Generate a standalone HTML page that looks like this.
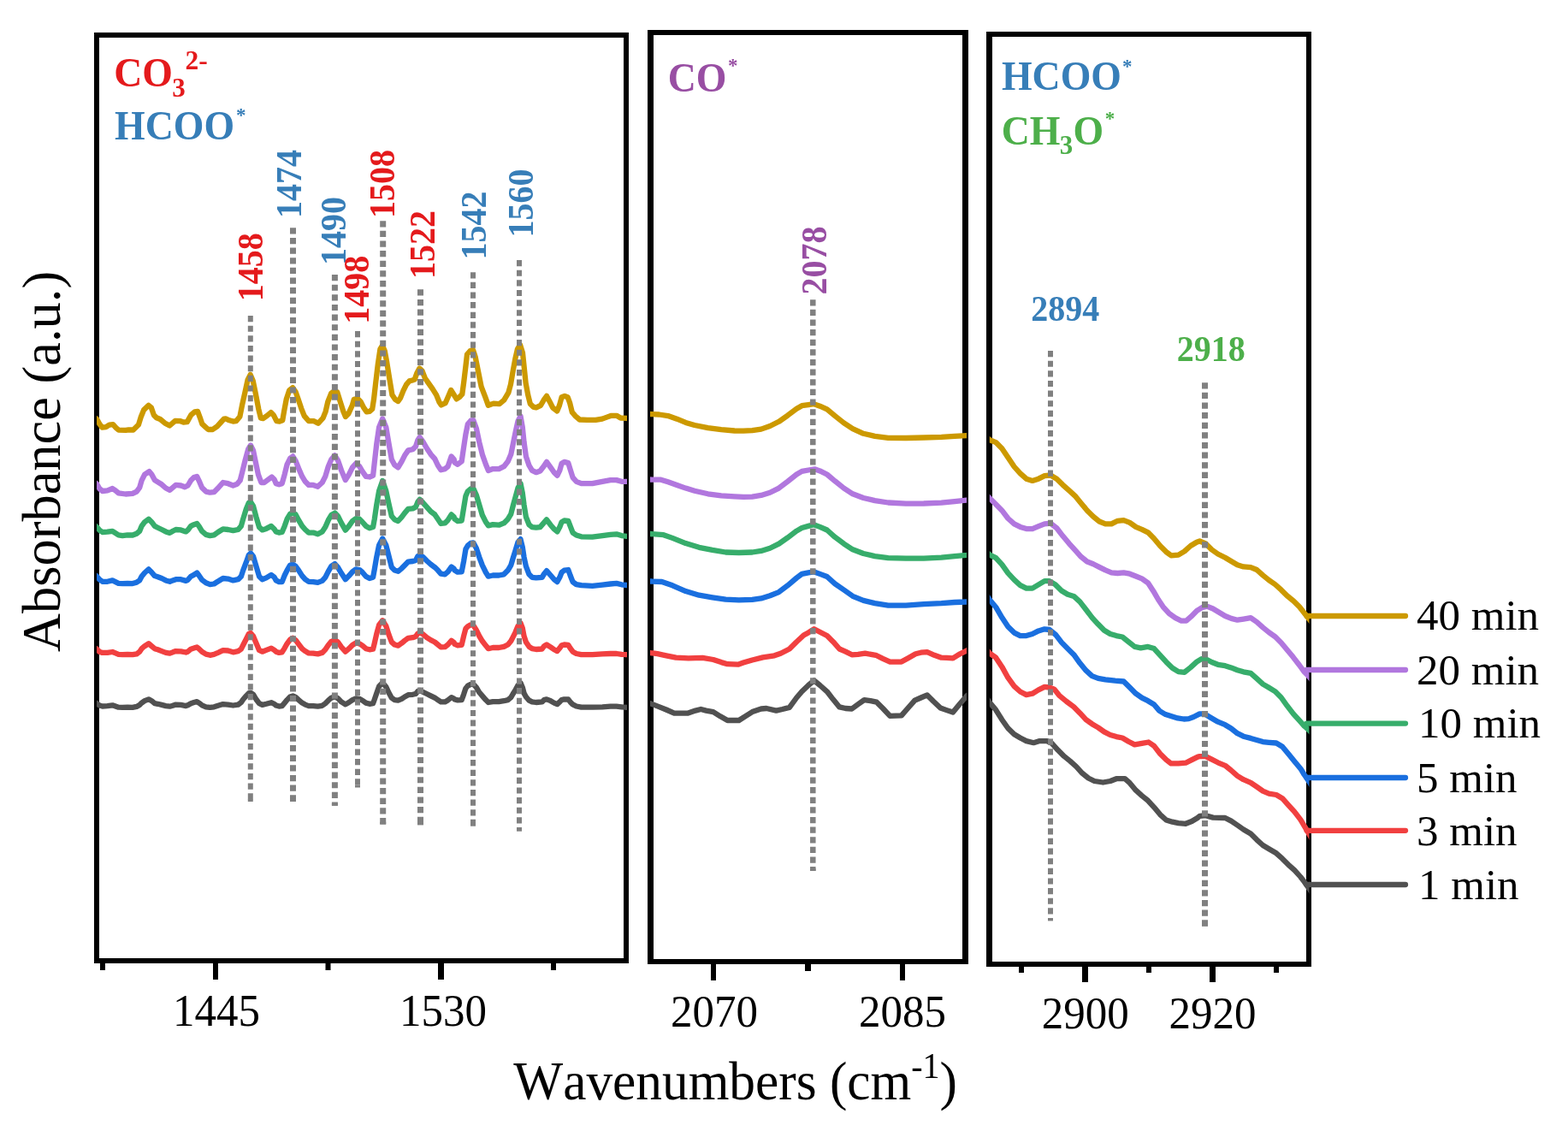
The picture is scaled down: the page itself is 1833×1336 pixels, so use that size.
<!DOCTYPE html>
<html lang="en"><head><meta charset="utf-8"><title>In situ DRIFTS spectra</title>
<style>
html,body{margin:0;padding:0;background:#fff;}
body{width:1833px;height:1336px;overflow:hidden;}
svg{display:block;font-family:'Liberation Serif', 'Times New Roman', serif;font-kerning:none;}
.curve{fill:none;stroke-width:6.3;stroke-linejoin:round;stroke-linecap:butt;}
.dot{fill:none;stroke:#808080;stroke-dasharray:7.2 4.43;}
.tick{font-size:51px;text-anchor:middle;fill:#000;}
.leg{font-size:51px;fill:#000;}
.ann{font-size:40px;font-weight:bold;}
.ttl{font-weight:bold;}
.axl{fill:#000;}
</style></head><body>
<svg width="1833" height="1336" viewBox="0 0 1833 1336">
<rect width="1833" height="1336" fill="#fff"/>
<g fill="#000" fill-rule="evenodd">
<path d="M110 38H735V1126H110ZM116 44H729V1120H116Z"/>
<path d="M757 35H1132V1127H757ZM764 41H1125V1121H764Z"/>
<path d="M1153 37H1533V1130H1153ZM1160 43H1527V1124H1160Z"/>
<rect x="117" y="1125" width="6" height="9"/>
<rect x="249" y="1125" width="6" height="20"/>
<rect x="380.5" y="1125" width="6" height="9"/>
<rect x="512" y="1125" width="7" height="20"/>
<rect x="644" y="1125" width="6" height="9"/>
<rect x="831" y="1126" width="6" height="20"/>
<rect x="941" y="1126" width="7" height="9"/>
<rect x="1052" y="1126" width="6" height="20"/>
<rect x="1191" y="1129" width="6" height="8"/>
<rect x="1265" y="1129" width="7" height="19"/>
<rect x="1340" y="1129" width="6" height="8"/>
<rect x="1414" y="1129" width="7" height="19"/>
<rect x="1489" y="1129" width="6" height="8"/>
</g>
<defs>
<clipPath id="c1"><rect x="113" y="0" width="620" height="1336"/></clipPath>
<clipPath id="c2"><rect x="760" y="0" width="370" height="1336"/></clipPath>
<clipPath id="c3"><rect x="1156.8" y="0" width="373.6" height="1336"/></clipPath>
</defs>
<g class="curve">
<g clip-path="url(#c1)">
<polyline stroke="#515151" points="110.8,820.9 113.3,822.2 116.2,824.5 119.7,825.5 125.6,825.1 131.5,824.3 135.0,825.5 138.5,826.7 143.2,826.9 149.1,826.7 155.0,826.9 159.7,825.9 163.2,823.9 165.6,821.6 169.1,819.2 173.8,817.3 177.3,819.2 180.8,822.2 184.4,822.8 189.1,823.9 193.8,825.1 198.5,825.7 202.0,824.8 205.5,823.6 211.4,823.9 217.3,825.1 219.6,824.3 223.1,822.2 226.7,821.0 230.2,820.1 232.5,821.6 236.1,824.3 240.8,826.3 245.5,826.9 250.2,826.3 254.9,824.8 260.7,823.1 266.6,823.6 272.5,824.5 278.4,823.6 281.9,821.0 284.2,817.5 287.8,813.4 290.7,810.4 293.0,809.8 296.0,811.6 299.5,817.5 303.0,822.2 306.6,823.9 311.3,822.8 317.1,821.2 320.7,822.8 322.7,824.5 326.2,825.5 329.7,825.1 332.7,821.6 335.6,818.1 339.1,814.5 342.3,813.4 345.6,814.9 349.1,818.1 353.2,821.6 356.8,823.6 360.9,825.1 366.2,825.1 371.5,825.7 376.7,824.8 380.3,822.2 383.8,818.7 387.3,815.7 391.4,814.2 395.0,816.3 399.1,820.4 403.8,823.4 407.9,821.0 412.0,818.1 416.1,816.3 420.2,816.9 423.7,818.7 427.8,821.6 432.0,822.8 436.1,822.2 437.8,817.5 440.2,810.4 443.1,802.2 447.2,798.1 451.3,802.8 454.3,809.3 457.8,815.7 461.3,818.1 465.4,818.7 469.6,816.9 473.1,814.5 477.2,812.2 482.5,811.8 486.0,811.0 488.4,808.1 490.7,806.9 494.2,808.7 498.9,811.0 503.6,813.4 508.3,815.7 511.9,818.1 515.4,820.4 520.1,820.4 523.6,818.4 527.7,815.1 530.7,816.5 531.5,817.5 535.0,818.4 539.7,818.1 542.1,811.6 544.4,804.6 546.8,801.6 550.3,799.9 553.3,799.6 556.8,803.4 560.3,809.3 563.8,813.4 567.9,818.1 570.9,821.0 576.2,820.1 583.2,820.1 589.1,819.2 593.8,818.1 597.3,815.1 599.7,811.0 602.6,806.3 605.5,801.0 608.5,798.1 610.8,803.4 612.6,810.4 614.9,814.5 618.5,818.7 622.0,820.4 626.7,821.0 633.7,820.4 636.1,818.1 639.0,817.3 643.7,819.2 647.8,821.6 651.4,823.1 654.3,820.4 656.6,818.1 659.6,817.3 664.3,817.5 666.6,820.4 669.6,823.4 673.7,825.5 679.6,826.7 692.5,826.7 704.2,826.3 713.6,825.7 720.7,825.7 726.6,826.3 733.0,826.9 735.5,827.1"/>
<polyline stroke="#F14040" points="110.8,757.2 113.3,758.7 116.2,761.7 119.7,762.9 125.6,762.9 131.5,762.0 135.0,763.4 138.5,764.9 143.2,765.2 149.1,764.9 155.0,765.2 159.7,764.4 163.2,761.7 165.6,758.2 169.1,755.2 173.8,752.3 177.3,755.2 180.8,758.2 184.4,759.3 189.1,761.1 193.8,762.9 198.5,763.7 202.0,762.3 205.5,761.1 211.4,761.3 217.3,762.5 219.6,761.7 223.1,758.7 226.7,757.6 230.2,756.4 232.5,758.2 236.1,761.7 240.8,764.6 245.5,765.8 250.2,764.9 254.9,762.9 260.7,760.2 266.6,760.5 272.5,762.3 278.4,761.1 281.9,758.7 284.2,754.0 287.8,747.0 290.7,741.1 293.0,739.9 296.0,743.5 299.5,751.7 303.0,759.9 306.6,761.7 311.3,759.9 317.1,757.6 320.7,759.9 322.7,761.7 326.2,762.9 329.7,762.3 332.7,757.6 335.6,752.3 339.1,747.6 342.3,745.8 345.6,748.2 349.1,752.9 353.2,758.2 356.8,761.1 360.9,763.4 366.2,763.7 371.5,764.4 376.7,762.9 380.3,759.3 383.8,754.0 387.3,749.9 391.4,748.2 395.0,750.5 399.1,756.4 403.8,761.7 407.9,758.2 412.0,754.0 416.1,751.5 420.2,752.3 423.7,754.6 427.8,758.2 432.0,759.3 436.1,758.7 437.8,751.7 440.2,741.1 443.1,730.5 447.2,725.3 451.3,731.7 454.3,741.1 457.8,750.5 461.3,753.5 465.4,754.6 469.6,751.7 473.1,748.8 477.2,745.8 482.5,745.2 486.0,744.1 488.4,740.5 490.7,739.4 494.2,741.1 498.9,745.2 503.6,748.2 508.3,750.5 511.9,753.5 515.4,756.4 520.1,756.2 523.6,753.5 527.7,748.8 530.7,751.1 531.5,752.9 535.0,754.3 539.7,753.8 542.1,743.5 544.4,734.7 546.8,732.3 550.3,730.3 553.3,730.8 556.8,736.4 560.3,743.5 563.8,749.3 567.9,754.6 570.9,758.2 576.2,757.0 583.2,757.0 589.1,755.8 593.8,753.5 597.3,749.3 599.7,744.6 602.6,738.8 605.5,731.7 608.5,728.2 610.8,734.1 612.6,743.5 614.9,750.5 618.5,755.8 622.0,758.2 626.7,759.0 633.7,758.5 636.1,755.2 639.0,753.5 643.7,756.4 647.8,759.3 651.4,761.1 654.3,757.6 656.6,754.3 659.6,753.5 664.3,753.8 666.6,757.6 669.6,761.7 673.7,764.0 679.6,765.2 692.5,765.2 704.2,764.4 713.6,764.0 720.7,764.0 726.6,764.9 733.0,765.2 735.5,765.4"/>
<polyline stroke="#1A6FDF" points="110.8,671.7 113.3,673.7 116.2,677.2 119.7,679.8 125.6,679.8 131.5,678.4 135.0,680.1 138.5,681.9 143.2,682.1 149.1,681.9 155.0,682.1 159.7,680.7 163.2,678.4 165.6,673.7 169.1,669.5 173.8,665.4 177.3,669.0 180.8,673.1 184.4,674.2 189.1,676.0 193.8,678.4 198.5,679.8 202.0,678.4 205.5,677.2 211.4,677.2 217.3,678.9 219.6,677.8 223.1,673.7 226.7,671.9 230.2,669.5 232.5,672.5 236.1,677.8 240.8,681.3 245.5,683.1 250.2,682.5 254.9,679.5 260.7,676.0 266.6,676.6 272.5,678.4 278.4,677.2 281.9,673.7 284.2,666.6 287.8,657.2 290.7,649.0 293.0,646.6 296.0,650.2 299.5,661.9 303.0,673.7 306.6,677.2 311.3,675.4 317.1,671.9 320.7,674.8 322.7,678.4 326.2,680.1 329.7,680.1 332.7,672.5 335.6,666.6 339.1,660.7 342.3,659.6 345.6,661.9 349.1,666.6 353.2,673.1 356.8,677.2 360.9,679.8 366.2,680.1 371.5,680.9 376.7,678.9 380.3,674.8 383.8,667.8 387.3,661.9 391.4,659.0 395.0,663.1 399.1,670.1 403.8,677.2 407.9,673.1 412.0,668.4 416.1,665.4 420.2,666.0 423.7,669.0 427.8,673.7 432.0,676.0 436.1,674.8 437.8,665.4 440.2,651.3 443.1,637.2 447.2,629.6 451.3,637.2 454.3,649.0 457.8,663.1 461.3,666.6 465.4,667.8 469.6,664.3 473.1,660.7 477.2,656.6 482.5,656.0 486.0,654.9 488.4,650.2 490.7,648.4 494.2,650.8 498.9,655.5 503.6,659.6 508.3,663.1 511.9,666.6 515.4,670.7 520.1,671.3 523.6,668.4 527.7,662.5 530.7,664.8 531.5,666.6 535.0,668.7 539.7,668.4 542.1,656.0 544.4,641.9 546.8,637.8 550.3,634.9 553.3,634.3 556.8,640.8 560.3,651.3 563.8,660.7 567.9,669.0 570.9,673.7 576.2,672.5 583.2,672.5 589.1,671.3 593.8,666.6 597.3,660.7 599.7,652.5 602.6,643.1 605.5,633.7 608.5,630.2 610.8,639.6 612.6,651.3 614.9,661.9 618.5,671.3 622.0,674.8 626.7,675.4 633.7,674.8 636.1,670.7 639.0,667.2 643.7,672.5 647.8,677.2 651.4,680.1 654.3,674.8 656.6,669.0 659.6,666.6 664.3,666.0 666.6,672.5 669.6,680.1 673.7,683.1 679.6,684.2 692.5,684.8 704.2,683.6 713.6,682.5 720.7,681.9 726.6,683.3 733.0,684.0 735.5,684.4"/>
<polyline stroke="#37AD6B" points="110.8,614.1 113.3,616.1 116.2,619.6 119.7,622.0 125.6,621.7 131.5,620.8 135.0,623.1 138.5,625.3 143.2,626.1 149.1,625.3 155.0,625.5 159.7,623.7 163.2,620.8 165.6,614.9 169.1,610.2 173.8,606.7 177.3,610.2 180.8,614.9 184.4,616.7 189.1,619.0 193.8,621.4 198.5,622.9 202.0,620.8 205.5,619.0 211.4,619.4 217.3,621.4 219.6,619.6 223.1,614.9 226.7,613.2 230.2,612.0 232.5,614.9 236.1,620.8 240.8,624.9 245.5,626.1 250.2,625.3 254.9,622.0 260.7,618.4 266.6,619.0 272.5,620.2 278.4,619.0 281.9,614.9 284.2,606.7 287.8,594.9 290.7,587.9 293.0,586.7 296.0,591.4 299.5,604.3 303.0,616.1 306.6,619.4 311.3,617.9 317.1,614.9 320.7,618.4 322.7,621.4 326.2,622.6 329.7,622.0 332.7,614.9 335.6,606.7 339.1,600.8 342.3,599.1 345.6,601.4 349.1,607.9 353.2,614.9 356.8,619.0 360.9,622.6 366.2,622.6 371.5,624.3 376.7,621.4 380.3,616.1 383.8,607.9 387.3,602.0 391.4,599.6 395.0,603.2 399.1,611.4 403.8,619.6 407.9,614.9 412.0,609.0 416.1,606.1 420.2,606.7 423.7,610.2 427.8,614.9 432.0,617.3 436.1,616.1 437.8,606.7 440.2,590.2 443.1,573.8 447.2,562.0 451.3,573.8 454.3,587.9 457.8,603.2 461.3,607.3 465.4,609.0 469.6,604.3 473.1,599.6 477.2,594.9 482.5,594.4 486.0,592.6 488.4,586.7 490.7,583.8 494.2,587.3 498.9,592.6 503.6,597.9 508.3,601.4 511.9,606.7 515.4,612.0 520.1,611.4 523.6,607.9 527.7,601.4 530.7,604.3 531.5,606.7 535.0,609.0 539.7,608.5 542.1,593.8 544.4,579.7 546.8,574.4 550.3,571.4 553.3,570.9 556.8,578.5 560.3,590.2 563.8,602.0 567.9,610.2 570.9,614.3 576.2,613.2 583.2,613.7 589.1,611.4 593.8,606.7 597.3,600.8 599.7,591.4 602.6,580.8 605.5,570.3 608.5,565.0 610.8,576.1 612.6,590.2 614.9,604.3 618.5,613.2 622.0,616.1 626.7,616.7 631.4,616.1 635.5,611.4 639.0,607.3 643.7,613.7 647.8,618.4 651.4,621.4 654.3,616.1 656.6,610.2 659.6,608.5 664.3,609.0 666.6,614.9 669.6,622.6 673.7,625.5 679.6,627.3 692.5,627.6 704.2,626.1 713.6,624.9 720.7,624.3 726.6,626.1 733.0,626.9 735.5,627.4"/>
<polyline stroke="#B177DE" points="110.8,563.8 113.3,565.8 116.2,571.0 119.7,574.0 125.6,573.4 131.5,571.0 135.0,573.4 138.5,576.3 146.8,577.5 155.0,576.9 159.7,574.6 163.2,569.9 165.6,561.6 169.1,554.6 174.4,551.1 177.3,554.6 180.8,561.1 184.4,563.4 189.1,566.3 193.8,570.5 198.5,572.8 202.0,569.9 205.5,566.9 211.4,567.5 216.1,569.3 219.6,567.5 223.1,561.6 226.7,558.1 230.2,556.9 232.5,561.6 236.1,569.9 240.8,574.6 245.5,575.7 250.2,575.2 254.9,570.5 260.7,564.0 266.6,565.2 272.5,567.5 277.2,565.8 280.7,561.6 283.1,552.2 286.6,538.1 290.1,525.2 293.0,520.5 296.0,526.4 298.9,540.5 301.9,554.6 305.4,564.0 308.9,564.0 313.6,560.5 317.7,557.5 320.7,560.5 322.7,565.2 326.2,566.3 329.7,565.2 332.7,554.6 335.6,542.8 339.1,535.8 342.3,533.4 345.6,538.7 349.1,547.5 353.2,556.9 356.8,562.8 360.9,566.9 366.2,566.9 371.5,568.7 376.7,564.0 380.3,556.9 383.8,545.2 387.3,537.0 391.4,532.3 395.0,538.1 399.1,549.9 403.8,561.1 407.9,554.6 412.0,546.4 416.1,541.7 420.2,545.2 423.7,551.1 427.8,556.9 432.0,557.5 436.1,555.8 437.8,540.5 440.2,519.3 443.1,499.4 447.2,489.4 451.3,499.4 454.3,517.0 457.8,537.0 461.3,543.4 465.4,546.4 469.6,539.3 473.1,532.3 477.2,526.4 482.5,525.2 486.0,521.7 488.4,514.6 490.7,511.1 494.2,515.8 498.9,524.0 503.6,531.1 508.3,536.4 511.9,544.0 515.4,549.3 520.1,548.1 523.6,545.2 527.7,533.4 530.7,537.0 531.5,540.5 535.0,542.8 539.7,539.3 542.1,522.9 544.4,507.6 546.8,495.8 550.3,491.7 553.3,491.1 556.8,500.5 560.3,517.0 563.8,531.1 567.9,542.8 570.9,549.9 576.2,548.1 583.2,548.1 589.1,545.2 593.8,539.3 597.3,531.1 599.7,519.3 602.6,505.2 605.5,492.3 608.5,486.4 610.8,499.4 612.6,517.0 614.9,533.4 618.5,544.0 622.0,549.9 626.7,552.2 631.4,550.5 635.5,545.2 639.0,539.9 643.7,546.4 647.8,552.2 651.4,555.8 654.3,549.9 656.6,541.7 659.6,539.9 664.3,541.1 666.6,548.7 669.6,558.1 673.7,562.8 679.6,565.2 692.5,565.2 704.2,562.8 713.6,561.1 720.7,561.1 726.6,562.8 733.0,562.8 735.5,563.2"/>
<polyline stroke="#CC9900" points="110.8,488.0 113.3,490.0 116.4,495.7 119.4,499.7 123.8,499.2 127.8,496.6 132.1,496.1 135.7,500.1 138.7,502.7 147.0,502.9 150.5,502.3 155.8,502.5 161.9,496.6 164.6,487.8 168.1,479.1 173.7,473.8 176.8,476.4 179.9,485.2 182.9,488.3 187.3,490.0 192.6,494.4 198.3,497.5 204.8,491.8 211.0,492.2 214.5,493.5 218.8,493.1 223.2,485.2 227.6,481.3 231.1,480.8 233.7,487.8 236.4,495.7 239.9,498.8 243.4,502.0 248.6,502.0 253.9,498.3 258.3,493.5 261.8,489.6 263.8,489.4 268.1,491.3 272.5,492.6 276.0,492.2 280.4,487.0 283.0,473.8 286.5,458.1 289.6,444.0 292.7,437.9 295.7,444.9 298.8,459.8 302.3,478.2 304.9,488.7 307.5,489.1 311.9,486.1 316.7,482.1 319.8,485.2 323.3,492.2 326.8,492.6 330.3,491.3 332.1,480.8 334.7,466.8 338.2,456.3 342.1,453.2 345.6,458.1 348.7,466.8 352.2,477.3 355.7,486.1 361.0,492.2 367.1,492.2 371.9,494.8 377.6,488.7 380.7,480.8 383.3,469.4 387.2,459.8 389.9,457.6 394.2,458.1 397.7,469.4 401.3,480.8 403.9,487.0 407.4,483.5 411.8,473.8 413.8,466.8 418.1,465.9 421.6,469.4 425.1,476.4 428.6,481.3 432.1,480.8 435.2,478.2 437.0,466.8 439.2,447.5 441.8,425.7 444.4,408.1 447.0,403.8 449.7,409.9 452.3,423.9 455.4,443.2 458.4,461.6 461.9,466.8 465.4,469.0 468.1,465.1 471.6,456.3 475.1,449.3 478.6,445.4 482.1,444.5 484.7,443.6 487.3,436.2 490.4,430.5 493.5,433.5 497.0,442.3 501.3,448.4 505.7,454.6 510.1,461.6 513.6,470.3 515.8,473.4 520.6,471.2 524.1,463.3 527.2,455.9 530.2,460.7 533.7,466.4 537.2,464.2 540.3,460.7 542.1,447.5 544.2,430.0 546.0,414.3 549.5,410.3 553.0,409.0 555.6,416.9 559.1,434.4 562.6,451.9 567.3,464.2 570.8,473.8 576.9,471.6 583.9,472.1 589.2,467.7 594.4,458.9 597.0,449.3 599.7,433.5 602.3,419.5 604.9,408.1 608.0,402.9 611.0,412.5 612.8,430.0 614.6,447.5 617.2,461.6 619.8,472.1 623.3,475.6 626.8,476.4 632.1,473.8 635.6,467.7 639.1,462.9 642.6,469.4 646.1,476.4 651.3,480.4 654.0,473.8 656.6,464.2 660.1,462.9 663.6,464.2 666.2,471.2 668.8,481.7 672.4,486.1 677.6,490.5 686.4,490.9 696.4,490.8 704.0,489.6 710.1,487.4 714.7,485.8 720.8,485.8 725.4,488.5 733.0,488.9 735.5,489.5"/>
</g>
<g clip-path="url(#c2)">
<polyline stroke="#515151" points="757.7,821.3 760.2,822.3 768.5,825.4 778.8,829.5 788.2,833.7 803.7,833.7 813.0,830.6 819.3,829.0 825.5,830.6 833.8,832.1 842.1,837.3 850.4,842.0 863.8,842.0 871.1,837.3 879.4,832.1 889.8,828.5 896.0,828.0 907.4,830.6 914.6,829.0 922.9,826.9 931.2,815.5 937.4,808.3 945.0,801.0 951.7,795.3 958.5,801.0 966.8,808.3 974.0,817.6 981.3,826.4 988.5,828.0 995.8,828.5 1003.0,823.3 1010.3,818.1 1017.6,819.2 1024.8,820.7 1032.1,828.0 1040.4,836.8 1053.8,836.3 1061.1,828.0 1069.4,818.7 1076.6,815.5 1083.9,812.4 1091.2,819.7 1099.4,827.5 1106.7,830.1 1114.0,832.6 1121.2,823.8 1130.0,813.5 1132.5,811.5"/>
<polyline stroke="#F14040" points="757.7,762.5 760.2,763.0 768.5,764.2 778.8,766.3 790.2,768.7 804.8,769.4 821.3,768.9 833.8,771.0 843.1,774.1 850.4,776.2 862.8,776.7 869.0,774.6 879.4,771.5 891.8,768.4 905.3,766.3 912.6,763.7 922.9,758.5 931.2,750.2 939.5,742.5 945.0,739.4 951.7,735.2 958.5,738.8 966.8,743.0 974.0,750.2 981.3,758.5 988.5,761.6 995.8,765.3 1003.0,764.8 1011.3,763.7 1023.8,765.8 1032.1,769.9 1040.4,773.6 1053.8,773.6 1062.1,768.9 1070.4,764.2 1076.6,762.7 1083.9,762.2 1092.2,765.8 1100.5,768.7 1106.7,768.9 1114.0,769.4 1121.2,764.8 1130.0,760.6 1132.5,759.2"/>
<polyline stroke="#1A6FDF" points="757.7,679.0 760.2,679.5 773.7,680.0 786.1,684.3 801.6,691.1 817.2,695.7 832.7,698.3 848.3,700.7 863.8,701.4 879.4,700.9 889.8,699.4 900.1,696.2 910.5,692.1 920.8,684.3 931.2,675.5 937.4,670.9 945.0,669.3 951.2,668.3 958.5,670.9 966.8,674.0 976.1,682.3 986.5,689.5 996.8,696.8 1009.3,701.9 1022.7,705.1 1038.3,707.6 1059.0,707.6 1079.8,706.1 1100.5,705.1 1116.0,704.0 1130.0,703.5 1132.5,703.4"/>
<polyline stroke="#37AD6B" points="757.7,623.5 760.2,624.0 775.7,625.2 786.1,628.9 801.6,635.1 817.2,639.8 832.7,642.9 848.3,645.5 863.8,646.0 879.4,645.5 889.8,643.9 900.1,640.8 910.5,635.6 920.8,628.4 931.2,620.6 937.4,617.0 945.0,614.9 951.2,613.3 958.5,615.9 966.8,619.5 976.1,627.8 986.5,635.6 996.8,642.3 1009.3,647.0 1022.7,650.1 1038.3,652.2 1059.0,652.7 1079.8,652.7 1100.5,651.7 1116.0,650.1 1130.0,648.9 1132.5,648.6"/>
<polyline stroke="#B177DE" points="757.7,560.2 760.2,560.5 772.6,560.7 780.9,563.3 791.3,566.9 801.6,570.6 812.0,573.7 827.6,577.3 843.1,579.4 858.7,580.4 869.0,580.9 879.4,580.6 889.8,578.9 900.1,575.8 910.5,570.6 920.8,562.8 931.2,554.5 937.4,550.9 945.0,549.5 952.3,548.3 958.5,550.4 966.8,554.5 976.1,562.3 986.5,570.6 996.8,577.3 1009.3,582.0 1022.7,585.1 1038.3,587.5 1059.0,588.7 1079.8,588.5 1100.5,587.7 1116.0,586.1 1130.0,584.6 1132.5,584.3"/>
<polyline stroke="#CC9900" points="757.7,483.8 760.2,484.0 770.5,484.5 780.9,486.1 791.3,489.7 801.6,493.9 812.0,497.0 827.6,500.1 843.1,502.2 858.7,503.5 869.0,503.7 879.4,503.2 889.8,501.6 900.1,498.0 910.5,492.8 920.8,485.6 931.2,477.8 937.4,474.2 945.0,473.1 951.2,472.1 958.5,474.7 966.8,478.3 976.1,486.1 986.5,494.4 996.8,501.1 1009.3,506.8 1022.7,509.9 1038.3,511.8 1059.0,512.0 1079.8,511.5 1100.5,510.8 1116.0,509.9 1130.0,509.2 1132.5,509.1"/>
</g>
<g clip-path="url(#c3)">
<polyline stroke="#515151" points="1153.1,815.7 1157.1,821.3 1164.2,829.8 1171.3,841.2 1178.4,851.2 1185.6,858.3 1192.7,862.5 1199.8,866.1 1208.3,868.2 1215.4,866.1 1224.0,866.1 1229.6,868.9 1236.8,876.8 1243.9,883.9 1251.0,889.6 1258.1,896.0 1265.2,903.8 1272.3,909.5 1279.4,913.0 1289.4,914.5 1297.9,913.0 1305.0,910.2 1315.0,910.2 1320.7,915.2 1327.8,923.7 1334.9,930.1 1342.0,935.8 1349.1,943.6 1356.2,952.1 1363.3,958.5 1370.5,960.7 1377.6,962.1 1386.1,962.8 1393.2,960.0 1400.3,955.7 1402.4,953.9 1409.5,953.2 1418.0,955.6 1432.2,956.0 1439.3,959.6 1446.5,964.5 1453.6,969.5 1462.1,974.5 1469.2,981.6 1476.3,988.0 1483.4,992.3 1492.0,997.3 1499.1,1003.7 1506.2,1010.8 1513.3,1017.2 1520.4,1025.0 1524.7,1030.7 1529.7,1037.8 1533.7,1043.3"/>
<polyline stroke="#F14040" points="1153.1,759.3 1157.1,763.7 1164.2,768.7 1171.3,779.4 1178.4,792.2 1185.6,802.1 1192.7,808.5 1199.8,812.1 1206.9,810.7 1214.0,806.4 1221.1,802.9 1226.8,803.5 1232.5,805.6 1238.2,812.8 1246.7,819.9 1255.3,826.3 1262.4,833.4 1269.5,841.2 1276.6,846.2 1283.7,850.4 1290.8,855.4 1297.9,859.0 1305.0,861.1 1312.1,862.5 1319.3,866.8 1326.4,870.4 1334.9,868.9 1342.7,867.5 1349.1,871.8 1356.2,881.0 1363.3,888.1 1369.0,892.4 1377.6,892.4 1386.1,891.7 1393.2,888.1 1400.3,884.6 1402.4,884.2 1409.5,884.2 1416.6,887.7 1423.7,891.3 1432.2,894.8 1439.3,900.5 1446.5,906.9 1453.6,911.2 1462.1,914.8 1469.2,919.7 1476.3,924.7 1483.4,927.6 1492.0,929.0 1499.1,933.2 1506.2,941.1 1513.3,948.9 1520.4,958.1 1524.7,965.3 1529.7,973.8 1533.7,980.6"/>
<polyline stroke="#1A6FDF" points="1153.1,695.4 1157.1,701.2 1164.2,709.7 1171.3,721.8 1178.4,732.5 1185.6,739.6 1192.7,743.1 1199.8,743.1 1206.9,741.0 1214.0,737.4 1221.1,735.3 1226.8,736.0 1233.9,741.7 1241.0,750.9 1248.1,758.1 1255.3,765.2 1262.4,775.1 1269.5,783.7 1276.6,790.1 1283.7,792.9 1292.2,794.3 1303.6,795.7 1313.6,796.5 1320.7,803.6 1327.8,810.7 1334.9,815.7 1342.0,819.2 1349.1,823.5 1355.4,830.9 1362.5,835.1 1369.6,837.3 1376.8,839.4 1383.9,840.5 1389.6,840.1 1395.3,838.0 1402.4,834.4 1408.1,834.4 1415.2,838.7 1423.7,843.7 1432.2,847.2 1439.3,851.5 1446.5,857.2 1453.6,860.7 1462.1,862.9 1469.2,865.0 1476.3,867.1 1483.4,867.8 1492.0,868.5 1499.1,872.8 1506.2,881.3 1513.3,889.9 1520.4,898.4 1524.7,905.5 1529.7,912.6 1533.7,918.8"/>
<polyline stroke="#37AD6B" points="1153.1,645.3 1157.1,648.5 1164.2,652.1 1171.3,659.9 1178.4,669.9 1185.6,677.7 1192.7,684.1 1199.8,687.6 1206.9,687.6 1214.0,683.4 1221.1,679.1 1226.8,679.1 1233.9,683.4 1241.0,690.5 1248.1,694.8 1255.3,696.9 1262.4,703.3 1269.5,712.5 1276.6,721.8 1283.7,729.6 1290.8,736.7 1297.9,741.0 1305.0,743.1 1312.1,744.5 1319.3,750.2 1326.4,755.9 1333.5,757.3 1342.0,755.9 1349.1,758.1 1356.2,765.9 1363.3,773.7 1370.5,780.8 1377.6,785.1 1384.7,785.8 1391.8,780.1 1398.9,773.7 1404.6,770.1 1409.5,770.4 1416.6,774.0 1423.7,776.8 1432.2,778.2 1439.3,780.4 1446.5,783.2 1453.6,785.3 1462.1,786.8 1469.2,793.2 1476.3,799.6 1483.4,803.8 1490.5,808.1 1497.7,815.2 1504.8,825.2 1511.9,834.4 1519.0,842.2 1524.7,848.6 1529.7,852.9 1533.7,856.9"/>
<polyline stroke="#B177DE" points="1153.1,578.5 1157.1,582.5 1164.2,589.6 1171.3,596.7 1178.4,606.0 1185.6,612.4 1192.7,615.9 1199.8,618.1 1206.9,618.1 1214.0,615.2 1221.1,612.4 1228.2,611.7 1235.3,617.3 1242.5,626.6 1249.6,635.1 1256.7,642.9 1263.8,650.8 1270.9,656.5 1278.0,659.3 1285.1,662.9 1292.2,666.4 1299.3,669.3 1306.5,670.0 1313.6,669.3 1320.7,670.7 1327.8,673.5 1334.9,676.4 1342.0,681.3 1348.3,690.9 1354.0,700.8 1359.7,709.3 1366.8,717.2 1373.9,722.1 1381.0,725.7 1386.7,725.7 1392.4,720.7 1399.5,713.6 1405.2,710.1 1410.9,708.6 1418.0,711.5 1425.1,715.7 1432.2,720.0 1439.3,722.9 1446.5,724.7 1453.6,723.6 1462.1,722.1 1469.2,727.0 1476.3,733.4 1483.4,739.1 1490.5,744.1 1497.7,751.2 1504.8,759.7 1511.9,768.3 1519.0,777.5 1524.7,785.3 1529.7,790.3 1533.7,795.1"/>
<polyline stroke="#CC9900" points="1153.1,511.4 1157.1,514.2 1164.2,517.1 1171.3,524.2 1178.4,534.8 1185.6,545.5 1192.7,553.3 1199.8,559.7 1206.9,561.9 1214.0,559.7 1221.1,556.2 1228.2,555.5 1235.3,559.7 1242.5,566.8 1249.6,573.2 1256.7,579.6 1263.8,588.2 1270.9,596.7 1278.0,603.8 1285.1,609.5 1292.2,612.4 1299.3,612.4 1306.5,608.8 1313.6,608.1 1320.7,610.9 1327.8,615.9 1334.9,618.8 1342.0,622.3 1349.1,629.4 1356.2,638.0 1363.3,645.1 1369.0,649.3 1377.6,648.6 1384.7,644.4 1391.8,638.0 1398.9,633.7 1402.4,632.5 1409.5,635.4 1416.6,642.5 1423.7,647.5 1432.2,651.7 1439.3,656.0 1446.5,660.3 1453.6,662.4 1462.1,663.1 1469.2,666.0 1476.3,672.4 1483.4,678.1 1490.5,683.0 1497.7,689.4 1504.8,696.5 1511.9,702.2 1519.0,709.3 1524.7,716.5 1529.7,722.9 1533.7,727.9"/>
</g>
<line stroke="#CC9900" x1="1527.5" y1="720" x2="1643" y2="720" stroke-linecap="round"/>
<line stroke="#B177DE" x1="1527.5" y1="783" x2="1643" y2="783" stroke-linecap="round"/>
<line stroke="#37AD6B" x1="1527.5" y1="845.6" x2="1643" y2="845.6" stroke-linecap="round"/>
<line stroke="#1A6FDF" x1="1527.5" y1="909" x2="1643" y2="909" stroke-linecap="round"/>
<line stroke="#F14040" x1="1527.5" y1="970.8" x2="1643" y2="970.8" stroke-linecap="round"/>
<line stroke="#515151" x1="1527.5" y1="1034" x2="1643" y2="1034" stroke-linecap="round"/>
</g>
<g class="dot">
<line x1="292.8" y1="369" x2="292.8" y2="937" stroke-width="6"/>
<line x1="292.8" y1="934" x2="292.8" y2="937" stroke-width="6" stroke-dasharray="none"/>
<line x1="342.5" y1="266.3" x2="342.5" y2="937" stroke-width="7"/>
<line x1="342.5" y1="934" x2="342.5" y2="937" stroke-width="7" stroke-dasharray="none"/>
<line x1="391.4" y1="321" x2="391.4" y2="941.7" stroke-width="7"/>
<line x1="391.4" y1="938.7" x2="391.4" y2="941.7" stroke-width="7" stroke-dasharray="none"/>
<line x1="418" y1="387" x2="418" y2="920.5" stroke-width="6"/>
<line x1="418" y1="917.5" x2="418" y2="920.5" stroke-width="6" stroke-dasharray="none"/>
<line x1="447.7" y1="258.2" x2="447.7" y2="963.7" stroke-width="7"/>
<line x1="447.7" y1="960.7" x2="447.7" y2="963.7" stroke-width="7" stroke-dasharray="none"/>
<line x1="491.5" y1="338.3" x2="491.5" y2="964.4" stroke-width="7"/>
<line x1="491.5" y1="961.4" x2="491.5" y2="964.4" stroke-width="7" stroke-dasharray="none"/>
<line x1="553" y1="318.2" x2="553" y2="965.7" stroke-width="6"/>
<line x1="553" y1="962.7" x2="553" y2="965.7" stroke-width="6" stroke-dasharray="none"/>
<line x1="607" y1="304" x2="607" y2="971.4" stroke-width="6"/>
<line x1="607" y1="968.4" x2="607" y2="971.4" stroke-width="6" stroke-dasharray="none"/>
<line x1="950.3" y1="350.2" x2="950.3" y2="1018" stroke-width="6.5"/>
<line x1="950.3" y1="1015" x2="950.3" y2="1018" stroke-width="6.5" stroke-dasharray="none"/>
<line x1="1228" y1="410" x2="1228" y2="1076.2" stroke-width="6"/>
<line x1="1228" y1="1073.2" x2="1228" y2="1076.2" stroke-width="6" stroke-dasharray="none"/>
<line x1="1408.5" y1="447.2" x2="1408.5" y2="1082.7" stroke-width="7"/>
<line x1="1408.5" y1="1079.7" x2="1408.5" y2="1082.7" stroke-width="7" stroke-dasharray="none"/>
</g>
<text class="ann" fill="#E41A1C" transform="translate(307 352.2) rotate(-90) scale(1 1.03)" x="0" y="0">1458</text>
<text class="ann" fill="#377EB8" transform="translate(352 254.9) rotate(-90) scale(1 1.03)" x="0" y="0">1474</text>
<text class="ann" fill="#377EB8" transform="translate(404.2 310.1) rotate(-90) scale(1 1.03)" x="0" y="0">1490</text>
<text class="ann" fill="#E41A1C" transform="translate(431.3 378.8) rotate(-90) scale(1 1.03)" x="0" y="0">1498</text>
<text class="ann" fill="#E41A1C" transform="translate(461.2 254.9) rotate(-90) scale(1 1.03)" x="0" y="0">1508</text>
<text class="ann" fill="#E41A1C" transform="translate(508.1 326) rotate(-90) scale(1 1.03)" x="0" y="0">1522</text>
<text class="ann" fill="#377EB8" transform="translate(568.1 303.6) rotate(-90) scale(1 1.03)" x="0" y="0">1542</text>
<text class="ann" fill="#377EB8" transform="translate(622.9 277.4) rotate(-90) scale(1 1.03)" x="0" y="0">1560</text>
<text class="ann" fill="#984EA3" transform="translate(966.2 344.4) rotate(-90) scale(1 1.03)" x="0" y="0">2078</text>
<text class="ann" fill="#377EB8" transform="translate(1205.3 375.2) scale(1 1.04)" x="0" y="0">2894</text>
<text class="ann" fill="#4DAF4A" transform="translate(1375.8 422.1) scale(1 1.04)" x="0" y="0">2918</text>
<text class="ttl" font-size="45.8" fill="#E41A1C" transform="translate(133.2 101) scale(1 1.05)" x="0" y="0">CO</text>
<text class="ttl" font-size="31" fill="#E41A1C" transform="translate(201.2 112.8) scale(1 1)" x="0" y="0">3</text>
<text class="ttl" font-size="31.5" fill="#E41A1C" transform="translate(216.5 80.6) scale(1 1)" x="0" y="0">2-</text>
<text class="ttl" font-size="45.8" fill="#377EB8" transform="translate(134.1 163.1) scale(1 1.05)" x="0" y="0">HCOO</text>
<text class="ttl" font-size="23" fill="#377EB8" transform="translate(276.1 142.2) scale(1 1)" x="0" y="0">*</text>
<text class="ttl" font-size="45.8" fill="#984EA3" transform="translate(780.7 107.4) scale(1 1.05)" x="0" y="0">CO</text>
<text class="ttl" font-size="23" fill="#984EA3" transform="translate(850.9 84.2) scale(1 1)" x="0" y="0">*</text>
<text class="ttl" font-size="45.8" fill="#377EB8" transform="translate(1171 104.6) scale(1 1.05)" x="0" y="0">HCOO</text>
<text class="ttl" font-size="23" fill="#377EB8" transform="translate(1311.9 84.6) scale(1 1)" x="0" y="0">*</text>
<text class="ttl" font-size="45.8" fill="#4DAF4A" transform="translate(1170.7 168.6) scale(1 1.05)" x="0" y="0">CH</text>
<text class="ttl" font-size="31" fill="#4DAF4A" transform="translate(1238.8 180.4) scale(1 1)" x="0" y="0">3</text>
<text class="ttl" font-size="45.8" fill="#4DAF4A" transform="translate(1254.6 168.6) scale(1 1.05)" x="0" y="0">O</text>
<text class="ttl" font-size="23" fill="#4DAF4A" transform="translate(1291.7 146.2) scale(1 1)" x="0" y="0">*</text>
<text class="tick" transform="translate(253 1199) scale(1 1.03)" x="0" y="0">1445</text>
<text class="tick" transform="translate(518 1199) scale(1 1.03)" x="0" y="0">1530</text>
<text class="tick" transform="translate(835 1200) scale(1 1.03)" x="0" y="0">2070</text>
<text class="tick" transform="translate(1055 1200) scale(1 1.03)" x="0" y="0">2085</text>
<text class="tick" transform="translate(1268.7 1202) scale(1 1.03)" x="0" y="0">2900</text>
<text class="tick" transform="translate(1417.6 1202) scale(1 1.03)" x="0" y="0">2920</text>
<text class="leg" x="1656" y="736.3">40 min</text>
<text class="leg" x="1656" y="799.8">20 min</text>
<text class="leg" x="1658" y="862.3">10 min</text>
<text class="leg" x="1656" y="925.5">5 min</text>
<text class="leg" x="1656" y="987.8">3 min</text>
<text class="leg" x="1658" y="1051.3">1 min</text>
<text class="axl" font-size="61.35" transform="translate(600.3 1285) scale(1 1.03)" x="0" y="0">Wavenumbers (cm<tspan dy="-24.5" font-size="40">-1</tspan><tspan dy="24.5">)</tspan></text>
<text class="axl" font-size="62.4" transform="translate(70 762) rotate(-90) scale(1 1.03)" x="0" y="0">Absorbance (a.u.)</text>
</svg>
</body></html>
